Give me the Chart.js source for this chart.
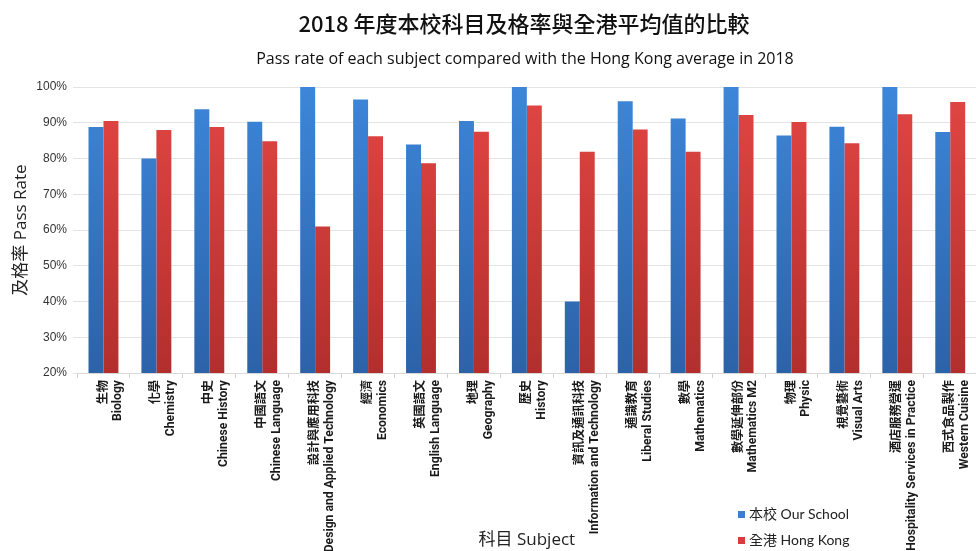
<!DOCTYPE html>
<html>
<head>
<meta charset="utf-8">
<title>2018 Pass Rate</title>
<script src="https://cdn.jsdelivr.net/npm/chart.js@4/dist/chart.umd.min.js"></script>
<style>
  html, body { margin: 0; padding: 0; background: #fff; overflow: hidden; }
  .wrap { position: relative; width: 976px; height: 551px; overflow: hidden; }
  .chart-box { position: absolute; left: 0; top: 0; width: 982px; height: 551px; }
  .title {
    position: absolute; left: 0; width: 1048px; top: 7px; text-align: center;
    font: 500 22px 'Noto Sans CJK TC', sans-serif; color: #111; line-height: 30px;
  }
  .subtitle {
    position: absolute; left: 0; width: 1050px; top: 47px; text-align: center;
    font: 500 16px 'Open Sans', sans-serif; color: #111; line-height: 22px;
  }
  .legend { position: absolute; left: 738px; top: 505px; font: 14px Lato, 'Noto Sans CJK TC', sans-serif; color: #222; }
  .legend div { height: 26px; line-height: 18px; white-space: nowrap; }
  .legend span { display: inline-block; width: 7px; height: 7px; margin-right: 4px; vertical-align: 1px; }
</style>
</head>
<body>
<div class="wrap">
  <div class="chart-box"><canvas id="passChart"></canvas></div>
  <div class="title">2018 年度本校科目及格率與全港平均值的比較</div>
  <div class="subtitle">Pass rate of each subject compared with the Hong Kong average in 2018</div>
  <div class="legend">
    <div><span style="background:#3a7fd2"></span>本校 Our School</div>
    <div><span style="background:#d93c3a"></span>全港 Hong Kong</div>
  </div>
</div>
<script>
// Subjects (Chinese / English)
const subjectsZh = ['生物', '化學', '中史', '中國語文', '設計與應用科技', '經濟', '英國語文', '地理', '歷史',
  '資訊及通訊科技', '通識教育', '數學', '數學延伸部份', '物理', '視覺藝術', '酒店服務營運', '西式食品製作'];
const subjectsEn = ['Biology', 'Chemistry', 'Chinese History', 'Chinese Language', 'Design and Applied Technology',
  'Economics', 'English Language', 'Geography', 'History', 'Information and Technology', 'Liberal Studies',
  'Mathematics', 'Mathematics M2', 'Physic', 'Visual Arts', 'Hospitality Services in Practice', 'Western Cuisine'];

// Pass rates (%)
const ourSchool = [88.8, 80.0, 93.8, 90.3, 100, 96.5, 83.9, 90.5, 100, 40.0, 96.0, 91.2, 100, 86.4, 88.9, 100, 87.4];
const hongKong  = [90.5, 88.0, 88.8, 84.8, 61.0, 86.2, 78.7, 87.5, 94.8, 81.9, 88.1, 81.9, 92.2, 90.2, 84.3, 92.4, 95.8];

// Y axis ticks
const yMin = 20;
const yMax = 100;
const yStep = 10;

// Vertical gradient for bars
function barGradient(context, top, bottom) {
  const chart = context.chart;
  const area = chart.chartArea;
  if (!area) return top;
  const g = chart.ctx.createLinearGradient(0, area.top, 0, area.bottom);
  g.addColorStop(0, top);
  g.addColorStop(1, bottom);
  return g;
}

const labels = subjectsZh.map((zh, i) => [zh, subjectsEn[i]]);

new Chart(document.getElementById('passChart'), {
  type: 'bar',
  data: {
    labels: labels,
    datasets: [
      {
        label: '本校 Our School',
        data: ourSchool,
        backgroundColor: ctx => barGradient(ctx, '#3d86d9', '#2c62a8'),
        borderWidth: 0
      },
      {
        label: '全港 Hong Kong',
        data: hongKong,
        backgroundColor: ctx => barGradient(ctx, '#e24643', '#b22f2d'),
        borderWidth: 0
      }
    ]
  },
  options: {
    responsive: true,
    maintainAspectRatio: false,
    animation: false,
    layout: { padding: { top: 87, left: 0, right: 0, bottom: 0 } },
    datasets: {
      bar: { categoryPercentage: 0.565, barPercentage: 1.0 }
    },
    scales: {
      x: {
        afterFit: scale => { scale.height = 178; },
        grid: { display: true, drawOnChartArea: false, tickLength: 5, color: '#d0d0d0' },
        border: { color: '#d9d9d9' },
        ticks: {
          autoSkip: false,
          minRotation: 90,
          maxRotation: 90,
          padding: 2,
          color: '#1a1a1a',
          font: { family: "Roboto, 'Noto Sans CJK TC', sans-serif", size: 12.2, weight: 700, lineHeight: 1.22 }
        },
        title: {
          display: true,
          text: '科目 Subject',
          color: '#222',
          padding: { top: 0, bottom: 1 },
          font: { family: "'Open Sans', 'Noto Sans CJK TC', sans-serif", size: 17, lineHeight: 1.2 }
        }
      },
      y: {
        min: yMin,
        max: yMax,
        afterFit: scale => { scale.width = 77; },
        grid: { color: '#e4e4e4', tickLength: 4 },
        border: { display: false },
        ticks: {
          stepSize: yStep,
          padding: 6,
          color: '#333',
          font: { family: "'Liberation Sans', Arial, sans-serif", size: 12 },
          callback: v => v + '%'
        },
        title: {
          display: true,
          text: '及格率 Pass Rate',
          color: '#222',
          padding: { top: 11, bottom: 0 },
          font: { family: "'Open Sans', 'Noto Sans CJK TC', sans-serif", size: 17, lineHeight: 1.2 }
        }
      }
    },
    plugins: {
      legend: { display: false },
      title: { display: false },
      tooltip: { enabled: false }
    }
  }
});
</script>
</body>
</html>
